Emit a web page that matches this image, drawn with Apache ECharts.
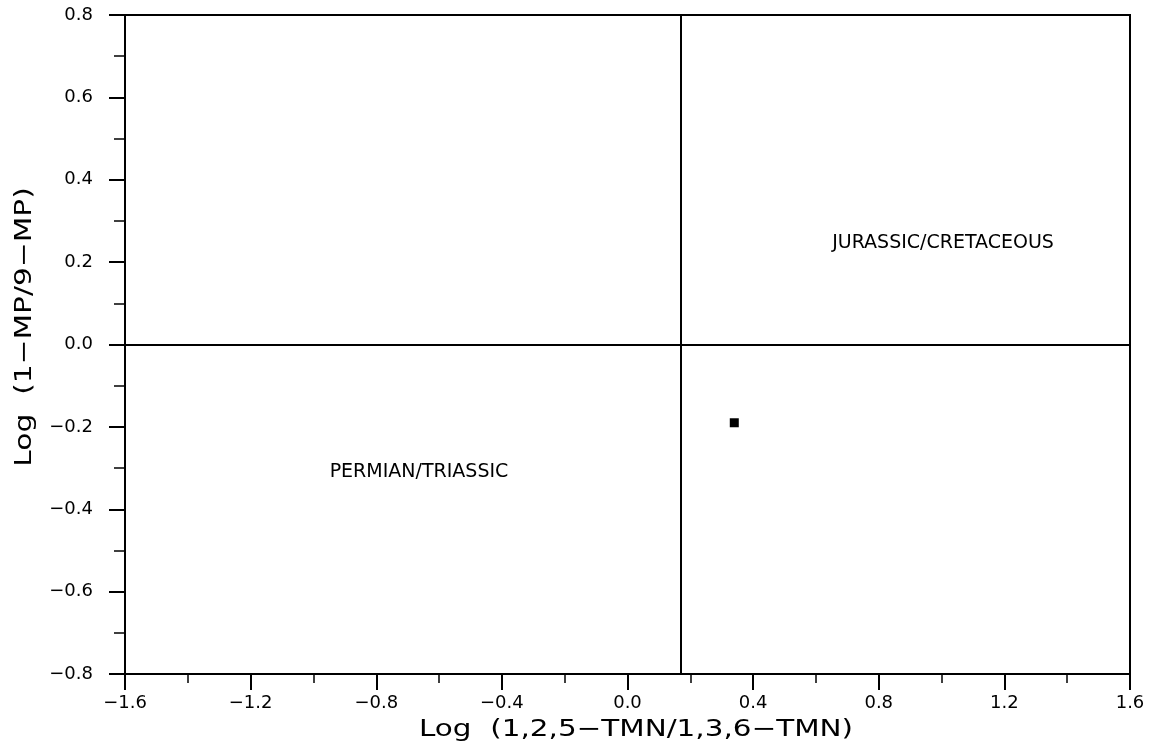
<!DOCTYPE html>
<html>
<head>
<meta charset="utf-8">
<script src="https://cdn.jsdelivr.net/npm/echarts@6/dist/echarts.min.js"></script>
<style>
  html, body { margin: 0; padding: 0; background: #fff; }
  #chart { width: 1154px; height: 754px; }
</style>
</head>
<body>
<div id="chart"></div>
<script>
// Axis ranges and tick spacing
const xRange = [-1.6, 1.6];
const xStep = 0.4;
const yRange = [-0.8, 0.8];
const yStep = 0.2;

// Field boundaries between the age groups
const boundaryX = [0.165];
const boundaryY = [0];

// Measured sample
const sampleX = [0.34];
const sampleY = [-0.19];

// Field names and where they sit
const fieldNames = ['PERMIAN/TRIASSIC', 'JURASSIC/CRETACEOUS'];
const fieldX = [-0.95, 0.65];
const fieldY = [-0.31, 0.246];

const xTitle = 'Log  (1,2,5\u2212TMN/1,3,6\u2212TMN)';
const yTitle = 'Log  (1\u2212MP/9\u2212MP)';

const FONT = '"DejaVu Sans", Verdana, sans-serif';

function tickText(v) {
  if (Math.abs(v) < 1e-9) v = 0;
  return v.toFixed(1).replace('-', '\u2212');
}

function axisBase(range, step, minorLen) {
  return {
    type: 'value',
    min: range[0],
    max: range[1],
    interval: step,
    axisLine: { show: true, onZero: false, lineStyle: { color: '#000', width: 2 } },
    axisTick: { show: true, inside: false, length: 16, lineStyle: { color: '#000', width: 2 } },
    minorTick: { show: true, splitNumber: 2, length: minorLen, lineStyle: { color: '#000', width: 1.5 } },
    splitLine: { show: false },
    minorSplitLine: { show: false },
    axisLabel: {
      color: '#000', fontFamily: FONT, fontSize: 18,
      formatter: tickText
    }
  };
}

const chart = echarts.init(document.getElementById('chart'), null, { renderer: 'canvas' });

const xAxis = axisBase(xRange, xStep, 9);
xAxis.axisLabel.margin = 20;
const yAxis = axisBase(yRange, yStep, 11);
yAxis.axisLabel.margin = 32;

chart.setOption({
  animation: false,
  backgroundColor: '#fff',
  grid: {
    left: 125, right: 24, top: 15, bottom: 80,
    show: true, borderColor: '#000', borderWidth: 2, backgroundColor: 'transparent'
  },
  xAxis: xAxis,
  yAxis: yAxis,
  graphic: [
    {
      type: 'text',
      x: 636, y: 730,
      scaleX: 1.28,
      style: {
        text: xTitle, fill: '#000', font: '23px ' + FONT,
        align: 'center', verticalAlign: 'middle'
      }
    },
    {
      type: 'text',
      x: 25, y: 327,
      rotation: Math.PI / 2,
      scaleX: 1.29,
      style: {
        text: yTitle, fill: '#000', font: '23px ' + FONT,
        align: 'center', verticalAlign: 'middle'
      }
    }
  ],
  series: [
    {
      name: 'sample',
      type: 'scatter',
      symbol: 'rect',
      symbolSize: 9,
      itemStyle: { color: '#000', opacity: 1 },
      data: sampleX.map((x, i) => [x, sampleY[i]]),
      markLine: {
        silent: true,
        symbol: 'none',
        label: { show: false },
        lineStyle: { color: '#000', width: 2, type: 'solid', opacity: 1 },
        data: boundaryX.map(v => ({ xAxis: v }))
          .concat(boundaryY.map(v => ({ yAxis: v })))
      },
      z: 5
    },
    {
      name: 'fields',
      type: 'scatter',
      symbolSize: 1,
      itemStyle: { color: 'rgba(0,0,0,0)' },
      label: {
        show: true,
        position: 'right',
        distance: 0,
        color: '#000',
        opacity: 1,
        fontFamily: FONT,
        fontSize: 19,
        formatter: p => fieldNames[p.dataIndex]
      },
      data: fieldX.map((x, i) => [x, fieldY[i]])
    }
  ]
});
</script>
</body>
</html>
